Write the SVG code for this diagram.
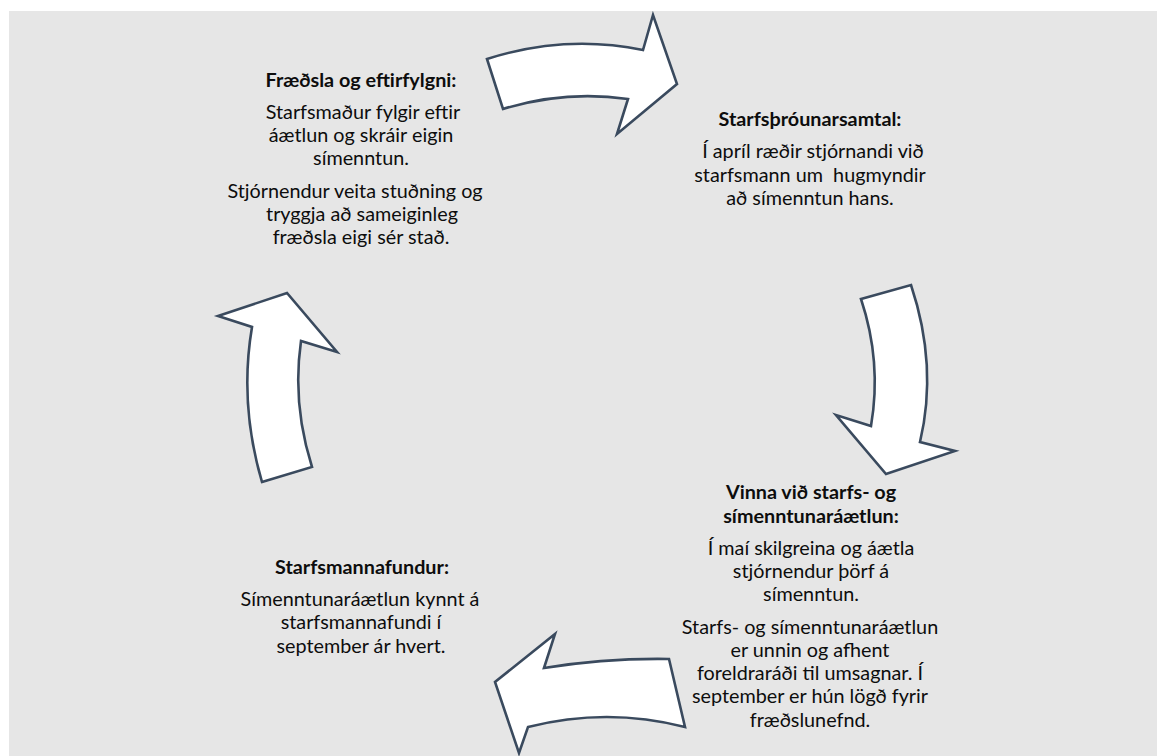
<svg xmlns="http://www.w3.org/2000/svg" width="1157" height="756" viewBox="0 0 1157 756">
<style>
.bg{fill:#e6e6e6}
.arrow{fill:#ffffff;stroke:#3a4a5e;stroke-width:2.6;stroke-linejoin:miter}
text{font-family:Lato,"Open Sans","Liberation Sans",sans-serif;font-size:19.8px;fill:#0d0d0d;text-anchor:middle}
.h{font-weight:bold}
</style>
<rect class="bg" x="9" y="11" width="1148" height="745"/>
<g id="connectors">
<path id="arrow-top" class="arrow" d="M487,59 Q565,34 643,50 L653,15 L677,84 L617,134 L628,99 Q565,90 503,109 Z"/>
<path id="arrow-right" class="arrow" d="M861,299 L911,285 Q938,366 920,442 L955,451 L886,474 L836,415 L871,426 Q882,362 861,299 Z"/>
<path id="arrow-bottom" class="arrow" d="M669,659 Q606,658 544,668 L555,634 L495,682 L519,753 L528,727 Q607,707 685,727 Z"/>
<path id="arrow-left" class="arrow" d="M262,482 L312,467 Q292,404 301,341 L337,352 L287,293 L218,316 L252,327 Q239,404 262,482 Z"/>
</g>
<g id="node-fraedsla">
<text class="h" x="361" y="87">Fræðsla og eftirfylgni:</text>
<text x="363" y="119">Starfsmaður fylgir eftir</text>
<text x="361" y="142">áætlun og skráir eigin</text>
<text x="361" y="165">símenntun.</text>
<text x="355" y="198">Stjórnendur veita stuðning og</text>
<text x="362" y="221">tryggja að sameiginleg</text>
<text x="361" y="244">fræðsla eigi sér stað.</text>
</g>
<g id="node-starfsthrounarsamtal">
<text class="h" x="810" y="126">Starfsþróunarsamtal:</text>
<text x="813" y="158">Í apríl ræðir stjórnandi við</text>
<text x="810" y="182" xml:space="preserve">starfsmann um  hugmyndir</text>
<text x="810" y="205">að símenntun hans.</text>
</g>
<g id="node-vinna">
<text class="h" x="811" y="499">Vinna við starfs- og</text>
<text class="h" x="811" y="523">símenntunaráætlun:</text>
<text x="811" y="555">Í maí skilgreina og áætla</text>
<text x="811" y="578">stjórnendur þörf á</text>
<text x="811" y="601">símenntun.</text>
<text x="810" y="634">Starfs- og símenntunaráætlun</text>
<text x="810" y="657">er unnin og afhent</text>
<text x="810" y="680">foreldraráði til umsagnar. Í</text>
<text x="810" y="703">september er hún lögð fyrir</text>
<text x="810" y="727">fræðslunefnd.</text>
</g>
<g id="node-starfsmannafundur">
<text class="h" x="362" y="574">Starfsmannafundur:</text>
<text x="360" y="606">Símenntunaráætlun kynnt á</text>
<text x="361" y="629">starfsmannafundi í</text>
<text x="361" y="653">september ár hvert.</text>
</g>
</svg>
